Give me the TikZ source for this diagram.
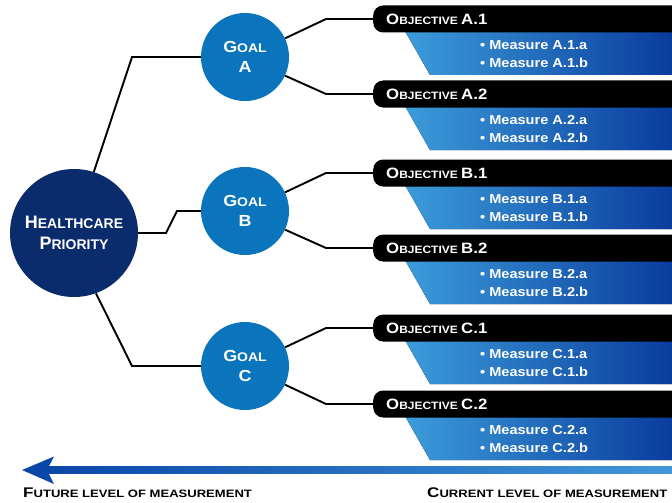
\documentclass[tikz,border=0pt]{standalone}
\usepackage{fontspec}
\setmainfont{Liberation Sans}
\newfontfamily\fA[FakeStretch=1.12]{Liberation Sans}
\newfontfamily\fB[FakeStretch=1.22]{Liberation Sans}
\definecolor{navy}{HTML}{0B2C6C}
\definecolor{goalblue}{HTML}{0A74BC}
\definecolor{gradL}{HTML}{3C9CDA}
\definecolor{gradR}{HTML}{0A3C9E}
\definecolor{shaftL}{HTML}{0B47A8}
\definecolor{shaftR}{HTML}{4297DA}
\newcommand\capsm[4]{{\fontsize{#1}{#1}\selectfont #3}{\fontsize{#2}{#2}\selectfont #4}}
\newcommand\objtext[1]{\capsm{15}{10.7}{O}{BJECTIVE}{\fontsize{15}{15}\selectfont\ #1}}
\tikzset{
  conn/.style={line width=1.9pt, black, line join=miter},
  hcnode/.style={circle, fill=navy, minimum size=128pt, inner sep=0pt, text=white, align=center, font=\bfseries\fontsize{14}{21}\selectfont},
  goalnode/.style={circle, fill=goalblue, minimum size=88pt, inner sep=0pt, text=white, align=center, font=\fA\bfseries\fontsize{12}{20}\selectfont},
  objbar/.style={fill=black, rounded corners=10pt, anchor=west, minimum height=27pt, text width=300pt, inner xsep=13pt, inner ysep=0pt, text=white, align=left, font=\fA\bfseries},
  meas/.style={anchor=west, inner sep=0pt, text=white, font=\fA\bfseries\fontsize{13}{13}\selectfont},
  lvl/.style={anchor=west, inner sep=0pt, text=black, font=\fB\bfseries}
}
\begin{document}
\begin{tikzpicture}[x=1pt,y=-1pt]
\useasboundingbox (0,0) rectangle (672,503);
\begin{scope}
\clip (0,0) rectangle (672,503);
% objectives and measures
\foreach \n/\yy/\lab in {A1/19/A.1, A2/94/A.2, B1/173/B.1, B2/248/B.2, C1/328/C.1, C2/404/C.2} {
  \fill[left color=gradL, right color=gradR] (405,\yy+12) -- (672,\yy+12) -- (672,\yy+56) -- (430,\yy+56) -- cycle;
  \node[objbar] (o\n) at (373,\yy) {\objtext{\lab}};
  \node[meas] (m\n-a) at (480,\yy+26) {\textbullet\ Measure \lab.a};
  \node[meas] (m\n-b) at (480,\yy+44) {\textbullet\ Measure \lab.b};
}
% circles
\node[hcnode] (hc) at (74,233) {\capsm{18}{14}{H}{EALTHCARE}\\\capsm{18}{14}{P}{RIORITY}};
\node[goalnode] (gA) at (245,57) {\capsm{16}{12.5}{G}{OAL}\\{\fontsize{16}{16}\selectfont A}};
\node[goalnode] (gB) at (245,211) {\capsm{16}{12.5}{G}{OAL}\\{\fontsize{16}{16}\selectfont B}};
\node[goalnode] (gC) at (245,366) {\capsm{16}{12.5}{G}{OAL}\\{\fontsize{16}{16}\selectfont C}};
% connectors
\draw[conn] (hc.72) -- (132,57) -- (gA.west);
\draw[conn] (hc.east) -- (166,233) -- (177,211) -- (gB.west);
\draw[conn] (hc.-70) -- (132,366) -- (gC.west);
\draw[conn] (gA.25) -- (326,19) -- (oA1.west);
\draw[conn] (gA.-25) -- (326,94) -- (oA2.west);
\draw[conn] (gB.25) -- (326,173) -- (oB1.west);
\draw[conn] (gB.-25) -- (326,248) -- (oB2.west);
\draw[conn] (gC.25) -- (326,328) -- (oC1.west);
\draw[conn] (gC.-25) -- (326,404) -- (oC2.west);
% arrow
\shade[left color=shaftL, right color=shaftR] (46,466) rectangle (672,473.5);
\fill[shaftL] (22,470) -- (54,456.5) -- (47,470) -- (54,484) -- cycle;
% labels
\node[lvl] (fut) at (23,493) {\capsm{14}{10.7}{F}{UTURE LEVEL OF MEASUREMENT}};
\node[lvl] (cur) at (427,493) {\capsm{14}{10.7}{C}{URRENT LEVEL OF MEASUREMENT}};
\end{scope}
\end{tikzpicture}
\end{document}
